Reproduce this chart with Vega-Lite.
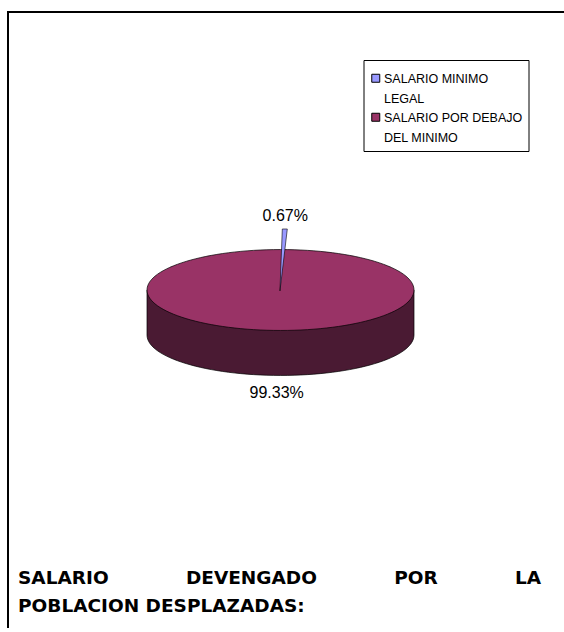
{
  "$schema": "https://vega.github.io/schema/vega-lite/v6.json",
  "width": 556,
  "height": 620,
  "autosize": "none",
  "padding": {"left": 8, "top": 12, "right": 0, "bottom": 0},
  "background": "white",
  "view": {"stroke": "#000000", "strokeWidth": 2, "fill": "#ffffff", "strokeDash": [556, 1180, 620, 0]},
  "config": {"style": {"guide-label": {"lineHeight": 20, "dy": -5}}},
  "title": {
    "text": ["SALARIO\u00a0\u00a0\u00a0\u00a0\u00a0\u00a0\u00a0\u00a0\u00a0\u00a0\u00a0\u00a0DEVENGADO\u00a0\u00a0\u00a0\u00a0\u00a0\u00a0\u00a0\u00a0\u00a0\u00a0\u00a0\u00a0POR\u00a0\u00a0\u00a0\u00a0\u00a0\u00a0\u00a0\u00a0\u00a0\u00a0\u00a0\u00a0LA", "POBLACION DESPLAZADAS:"],
    "orient": "bottom",
    "anchor": "start",
    "frame": "group",
    "offset": -48,
    "dx": 10,
    "font": "DejaVu Sans",
    "fontSize": 18.5,
    "fontWeight": "bold",
    "color": "#000000",
    "lineHeight": 28,
    "baseline": "alphabetic"
  },
  "data": {
    "values": [
      {"categoria": "SALARIO MINIMO LEGAL", "porcentaje": 0.67, "etiqueta": "0.67%"},
      {"categoria": "SALARIO POR DEBAJO DEL MINIMO", "porcentaje": 99.33, "etiqueta": "99.33%"}
    ]
  },
  "layer": [
    {
      "transform": [{"filter": "datum.porcentaje > 50"}],
      "mark": {"type": "point", "filled": true, "opacity": 1, "size": 71289, "shape": "M -1 0 L -1 0.337 A 1 0.303 0 0 0 1 0.337 L 1 0 Z", "fill": "#4a1a33", "stroke": "#000000", "strokeWidth": 0.7, "xOffset": -5.5, "yOffset": -32},
      "encoding": {}
    },
    {
      "transform": [{"filter": "datum.porcentaje > 50"}],
      "mark": {"type": "point", "filled": true, "opacity": 1, "size": 71289, "shape": "M -1 0 A 1 0.303 0 1 0 1 0 A 1 0.303 0 1 0 -1 0 Z", "stroke": "#000000", "strokeWidth": 0.7, "xOffset": -5.5, "yOffset": -32},
      "encoding": {
        "color": {
          "field": "categoria",
          "type": "nominal",
          "scale": {"domain": ["SALARIO MINIMO LEGAL", "SALARIO POR DEBAJO DEL MINIMO"], "range": ["#9999ff", "#993366"]},
          "legend": {
            "orient": "none",
            "legendX": 355.5,
            "legendY": 48,
            "title": "\u00a0",
            "titleFontSize": 4,
            "titlePadding": 2,
            "symbolType": "square",
            "symbolSize": 64,
            "symbolStrokeColor": "#000000",
            "symbolStrokeWidth": 1,
            "labelFont": "Liberation Sans",
            "labelFontSize": 12.5,
            "labelColor": "#000000",
            "labelBaseline": "top",
            "labelOffset": 2,
            "labelLimit": 300,
            "labelExpr": "datum.label == 'SALARIO MINIMO LEGAL' ? ['SALARIO MINIMO', 'LEGAL'] : ['SALARIO POR DEBAJO', 'DEL MINIMO']",
            "strokeColor": "#000000",
            "fillColor": "#ffffff",
            "padding": 6,
            "rowPadding": 5
          }
        }
      }
    },
    {
      "transform": [{"filter": "datum.porcentaje < 50"}],
      "mark": {"type": "point", "filled": true, "opacity": 1, "size": 71289, "shape": "M -0.004 0.007 L 0.0135 -0.457 L 0.051 -0.457 Z", "stroke": "#000000", "strokeWidth": 0.6, "xOffset": -5.5, "yOffset": -32},
      "encoding": {
        "color": {"field": "categoria", "type": "nominal"}
      }
    },
    {
      "transform": [{"filter": "datum.porcentaje < 50"}],
      "mark": {"type": "text", "font": "Liberation Sans", "fontSize": 16, "color": "#000000", "align": "center", "baseline": "middle", "xOffset": -0.7, "yOffset": -106.5},
      "encoding": {"text": {"field": "etiqueta"}}
    },
    {
      "transform": [{"filter": "datum.porcentaje > 50"}],
      "mark": {"type": "text", "font": "Liberation Sans", "fontSize": 16, "color": "#000000", "align": "center", "baseline": "middle", "xOffset": -9.3, "yOffset": 70.6},
      "encoding": {"text": {"field": "etiqueta"}}
    }
  ]
}
